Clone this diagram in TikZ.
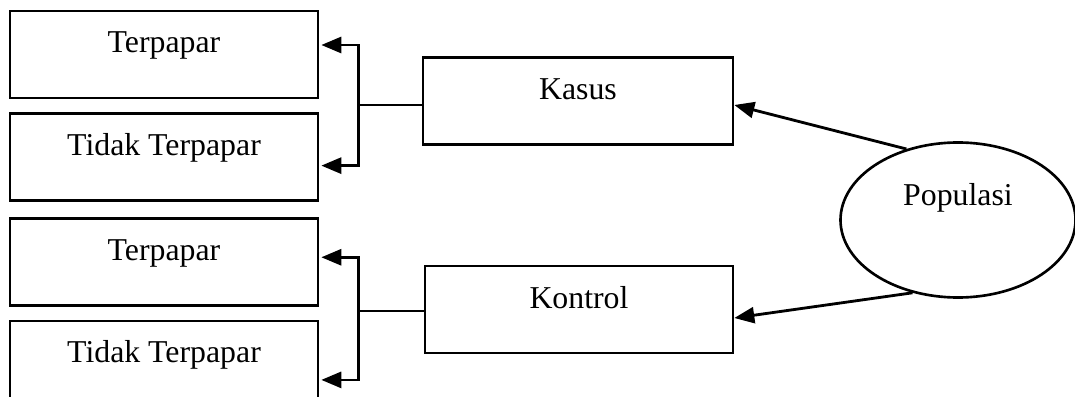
\documentclass[tikz,border=0pt]{standalone}
\usepackage{fontspec}
\setmainfont{Liberation Serif}
\usepackage{tikz}
\usetikzlibrary{shapes,arrows.meta,positioning,calc}

\begin{document}
\begin{tikzpicture}[
    font=\fontsize{18.1}{21}\selectfont,
    box/.style={draw, line width=1.5pt, rectangle, inner sep=0pt,
      minimum width=6.16cm, text height=0.84cm, text depth=0.9cm},
    arr/.style={line width=1.6pt, -{Triangle[length=0.4cm,width=0.32cm]}},
    link/.style={line width=0.6pt}
  ]
        \useasboundingbox (0,0) rectangle (21.5,-7.94);

        % Exposure boxes
        \node[box] (terA) at (3.28,-1.09) {Terpapar};
        \node[box, below=0.26cm of terA] (tidakA) {Tidak Terpapar};
        \node[box, below=0.3cm of tidakA] (terB) {Terpapar};
        \node[box, below=0.26cm of terB] (tidakB) {Tidak Terpapar};

        % Case and control
        \node[box, minimum width=6.2cm] (kasus) at (11.56,-2.02) {Kasus};
        \node[box, minimum width=6.16cm] (kontrol) at (11.58,-6.19) {Kontrol};

        % Population
        \node[draw, ellipse, line width=1.5pt, inner sep=0pt,
          minimum width=4.7cm, minimum height=3.1cm,
          text height=0.4cm, text depth=1.0cm] (pop) at (19.16,-4.4) {Populasi};

        \draw[arr] (pop.126) -- ([yshift=-0.08cm]kasus.east);
        \draw[arr] (pop.238) -- ([yshift=-0.17cm]kontrol.east);

        % Brackets
        \coordinate (ja) at ([xshift=-1.26cm,yshift=-0.08cm]kasus.west);
        \coordinate (jb) at ([xshift=-1.3cm,yshift=-0.03cm]kontrol.west);
        \draw[link] ([yshift=-0.08cm]kasus.west) -- (ja);
        \draw[link] ([yshift=-0.03cm]kontrol.west) -- (jb);
        \draw[arr] (ja) |- ([xshift=0.04cm,yshift=0.19cm]terA.east);
        \draw[arr] (ja) |- ([xshift=0.04cm,yshift=-0.17cm]tidakA.east);
        \draw[arr] (jb) |- ([xshift=0.04cm,yshift=0.09cm]terB.east);
        \draw[arr] (jb) |- ([xshift=0.04cm,yshift=-0.31cm]tidakB.east);
\end{tikzpicture}
\end{document}
